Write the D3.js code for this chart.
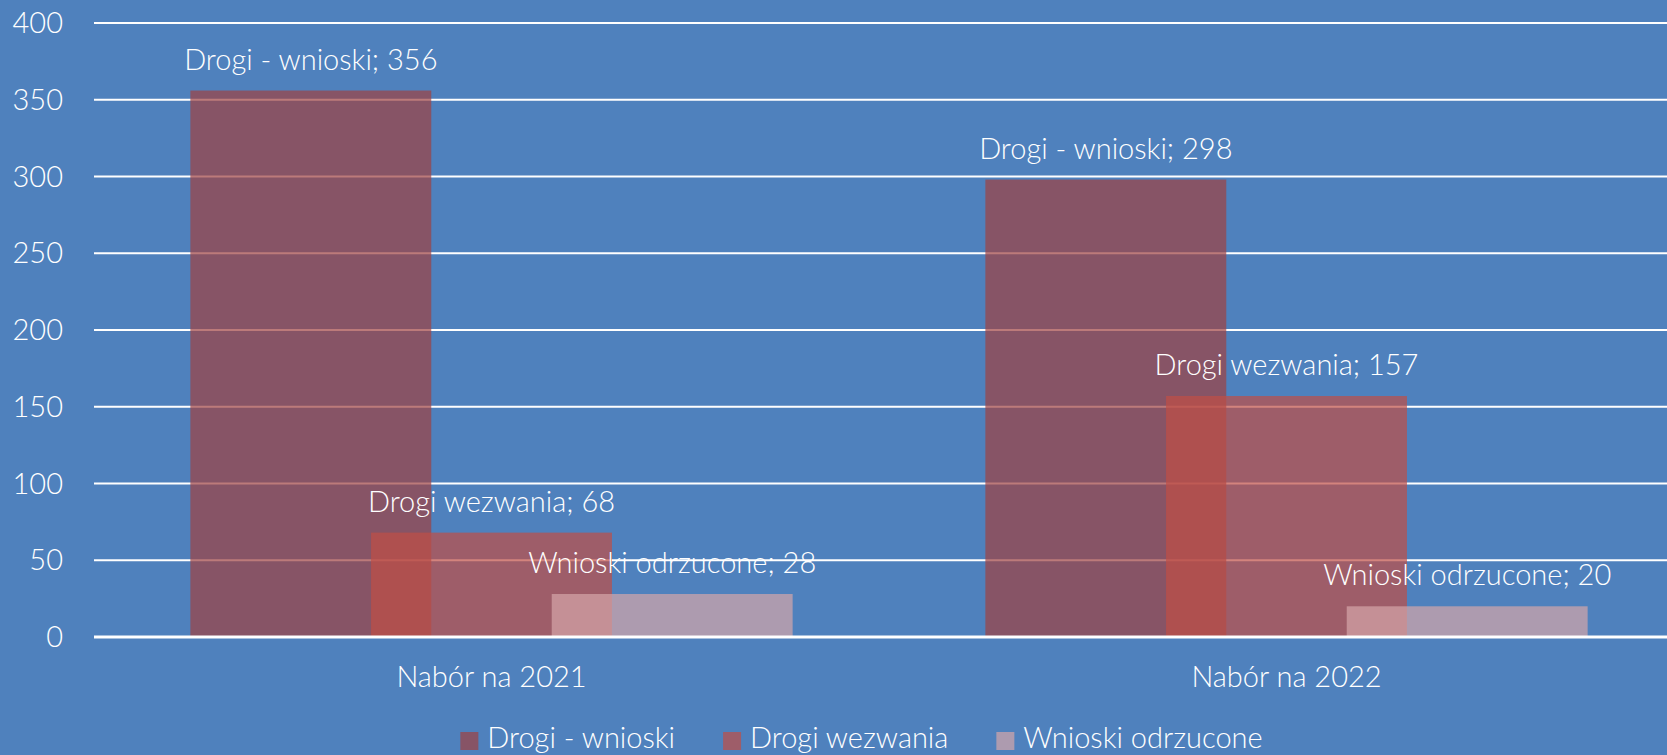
<!DOCTYPE html>
<html>
<head>
<meta charset="utf-8">
<script src="https://cdn.jsdelivr.net/npm/d3@7"></script>
<style>
    html, body { margin: 0; padding: 0; background: #4f81bd; overflow: hidden; }
    text { font-family: Lato, 'Open Sans', sans-serif; font-weight: 300; fill: #ffffff; }
</style>
</head>
<body>
<div id="chart"></div>
<script>
const categories = ['Nabór na 2021', 'Nabór na 2022'];
const seriesNames = ['Drogi - wnioski', 'Drogi wezwania', 'Wnioski odrzucone'];
const wnioski = [356, 298];
const wezwania = [68, 157];
const odrzucone = [28, 20];
const yTicks = [0, 50, 100, 150, 200, 250, 300, 350, 400];

const seriesValues = [wnioski, wezwania, odrzucone];
const colors = ['rgb(159,66,65)', 'rgb(192,78,70)', 'rgb(214,166,169)'];
const BAR_OPACITY = 0.7;

const width = 1667;
const height = 755;
const FONT = '29px';

// excel-like column layout: gap width and overlap as fractions of bar width
const GAP = 0.8;
const OVERLAP = 0.25;

const svg = d3.select('#chart').append('svg')
    .attr('width', width)
    .attr('height', height);

svg.append('rect')
    .attr('width', width)
    .attr('height', height)
    .attr('fill', '#4f81bd');

const x0 = d3.scaleBand()
    .domain(categories)
    .range([94, 1684])
    .padding(0);

const y = d3.scaleLinear()
    .domain([0, 400])
    .range([637, 23]);

const n = seriesNames.length;
const barW = x0.bandwidth() / (n - (n - 1) * OVERLAP + GAP);
const barX = (cat, i) => x0(cat) + (GAP * barW) / 2 + i * barW * (1 - OVERLAP);

// gridlines
svg.append('g')
    .selectAll('line')
    .data(yTicks.filter((t) => t > 0))
    .enter()
    .append('line')
    .attr('x1', 94)
    .attr('x2', width)
    .attr('y1', (d) => y(d))
    .attr('y2', (d) => y(d))
    .attr('stroke', '#ffffff')
    .attr('stroke-width', 2);

// y tick labels
svg.append('g')
    .selectAll('text')
    .data(yTicks)
    .enter()
    .append('text')
    .attr('x', 63)
    .attr('y', (d) => y(d) + 10)
    .attr('text-anchor', 'end')
    .style('font-size', FONT)
    .text((d) => d);

// bars, one group per series
seriesValues.forEach((vals, i) => {
    svg.append('g')
        .selectAll('rect')
        .data(categories.map((c, j) => ({ cat: c, value: vals[j] })))
        .enter()
        .append('rect')
        .attr('x', (d) => barX(d.cat, i))
        .attr('y', (d) => y(d.value))
        .attr('width', barW)
        .attr('height', (d) => y(0) - y(d.value))
        .attr('fill', colors[i])
        .attr('fill-opacity', BAR_OPACITY);
});

// baseline
svg.append('line')
    .attr('x1', 94)
    .attr('x2', width)
    .attr('y1', y(0))
    .attr('y2', y(0))
    .attr('stroke', '#ffffff')
    .attr('stroke-width', 3);

// data labels
seriesValues.forEach((vals, i) => {
    svg.append('g')
        .selectAll('text')
        .data(categories.map((c, j) => ({ cat: c, value: vals[j] })))
        .enter()
        .append('text')
        .attr('x', (d) => barX(d.cat, i) + barW / 2)
        .attr('y', (d) => y(d.value) - 21)
        .attr('text-anchor', 'middle')
        .style('font-size', FONT)
        .text((d) => `${seriesNames[i]}; ${d.value}`);
});

// category labels
svg.append('g')
    .selectAll('text')
    .data(categories)
    .enter()
    .append('text')
    .attr('x', (d) => x0(d) + x0.bandwidth() / 2)
    .attr('y', 687)
    .attr('text-anchor', 'middle')
    .style('font-size', FONT)
    .text((d) => d);

// legend
const legend = svg.append('g');
const items = seriesNames.map((name, i) => {
    const g = legend.append('g');
    g.append('rect')
        .attr('x', 0)
        .attr('y', 732)
        .attr('width', 18)
        .attr('height', 18)
        .attr('fill', colors[i])
        .attr('fill-opacity', BAR_OPACITY);
    const t = g.append('text')
        .attr('x', 27)
        .attr('y', 748)
        .style('font-size', FONT)
        .text(name);
    return { g, w: 27 + t.node().getComputedTextLength() };
});
const spacing = 48;
const total = items.reduce((acc, it) => acc + it.w, 0) + spacing * (items.length - 1);
let lx = 861.5 - total / 2;
items.forEach((it) => {
    it.g.attr('transform', `translate(${lx}, 0)`);
    lx += it.w + spacing;
});
</script>
</body>
</html>
